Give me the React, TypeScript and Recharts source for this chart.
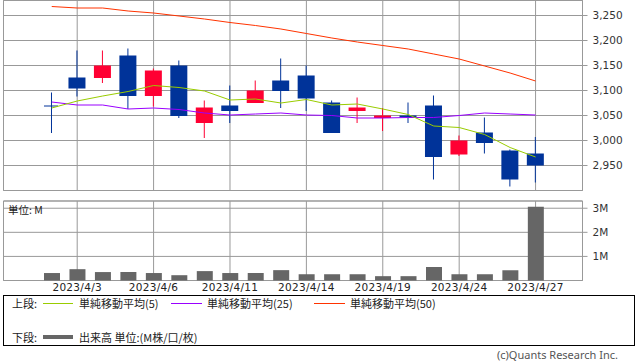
import { ComposedChart, Bar, Line, XAxis, YAxis, CartesianGrid, ReferenceArea } from "recharts";

const labels = [
  "2023/3/31", "2023/4/3", "2023/4/4", "2023/4/5", "2023/4/6", "2023/4/7", "2023/4/10",
  "2023/4/11", "2023/4/12", "2023/4/13", "2023/4/14", "2023/4/17", "2023/4/18", "2023/4/19",
  "2023/4/20", "2023/4/21", "2023/4/24", "2023/4/25", "2023/4/26", "2023/4/27",
];
const open = [3069, 3126, 3125, 3170, 3089, 3150, 3035, 3070, 3075, 3120, 3130, 3076, 3059, 3045, 3050, 3070, 2972, 3016, 2980, 2974];
const high = [3096, 3180, 3180, 3184, 3144, 3160, 3080, 3110, 3120, 3164, 3150, 3080, 3086, 3065, 3076, 3090, 3010, 3046, 2982, 3007];
const low = [3015, 3088, 3115, 3063, 3068, 3045, 3005, 3035, 3075, 3065, 3059, 3015, 3035, 3019, 3035, 2922, 2969, 2974, 2908, 2916];
const close = [3069, 3104, 3150, 3089, 3140, 3049, 3066, 3059, 3100, 3099, 3084, 3015, 3066, 3050, 3046, 2967, 3000, 2995, 2922, 2950];
const ma5 = [3065, 3079, 3089, 3098, 3110, 3106, 3099, 3081, 3083, 3075, 3082, 3071, 3073, 3063, 3052, 3029, 3026, 3012, 2986, 2967];
const ma25 = [3077, 3071, 3071, 3063, 3065, 3062, 3055, 3051, 3053, 3055, 3051, 3050, 3045, 3045, 3046, 3046, 3050, 3055, 3053, 3051];
const ma50 = [3268, 3265, 3265, 3259, 3255, 3249, 3243, 3236, 3230, 3223, 3214, 3205, 3197, 3190, 3183, 3173, 3163, 3149, 3135, 3119];
const volume = [0.31, 0.47, 0.35, 0.35, 0.31, 0.22, 0.39, 0.31, 0.31, 0.43, 0.26, 0.26, 0.26, 0.18, 0.18, 0.56, 0.26, 0.26, 0.43, 3.06];

const priceTicks = [2950, 3000, 3050, 3100, 3150, 3200, 3250];
const volTicks = [1, 2, 3];
const dateTicks = [1, 4, 7, 10, 13, 16, 19];

const data = labels.map((label, i) => ({
  i,
  label,
  open: open[i],
  high: high[i],
  low: low[i],
  close: close[i],
  range: [low[i], high[i]],
  ma5: ma5[i],
  ma25: ma25[i],
  ma50: ma50[i],
  vol: volume[i],
}));

const UP = "#ff0033";
const DOWN = "#003399";
const GRID = "#999999";
const X_DOMAIN: [number, number] = [-1.894, 20.843];
const FONT = "'DejaVu Sans', sans-serif";
const JP = "'Noto Sans CJK JP', sans-serif";

const Candle = (props: any) => {
  const { x, y, width, height, payload } = props;
  const top = Math.min(y, y + height);
  const h = Math.abs(height);
  const span = payload.high - payload.low;
  const k = span > 0 ? h / span : 0;
  const cx = x + width / 2;
  const bodyTop = top + (payload.high - Math.max(payload.open, payload.close)) * k;
  const bodyBot = top + (payload.high - Math.min(payload.open, payload.close)) * k;
  const color = payload.close > payload.open ? UP : DOWN;
  return (
    <g>
      <line x1={cx} x2={cx} y1={top} y2={top + h} stroke={color} strokeWidth={1} />
      {bodyBot - bodyTop < 1 ? (
        <line x1={x + 1} x2={x + width - 2} y1={bodyTop} y2={bodyTop} stroke={color} strokeWidth={1} />
      ) : (
        <rect x={x} y={bodyTop} width={width} height={bodyBot - bodyTop} fill={color} />
      )}
    </g>
  );
};

const legendText = { position: "absolute" as const, fontFamily: JP, fontSize: 11, color: "#222", lineHeight: "14px", whiteSpace: "nowrap" as const };

export default function App() {
  return (
    <div style={{ position: "absolute", left: 0, top: 0, width: 638, height: 362, background: "#fff" }}>
      <div style={{ position: "absolute", left: 0, top: 0 }}>
        <ComposedChart width={638} height={191} data={data} margin={{ top: 0.5, right: 0, bottom: 0.5, left: 3.5 }}>
          <CartesianGrid stroke={GRID} />
          <XAxis type="number" dataKey="i" domain={X_DOMAIN} ticks={dateTicks} hide />
          <YAxis
            orientation="right"
            width={55.5}
            domain={[2900, 3280]}
            ticks={priceTicks}
            tickFormatter={(v: number) => v.toLocaleString("en-US")}
            tickSize={5}
            tickMargin={5}
            axisLine={false}
            tickLine={{ stroke: GRID }}
            tick={{ fill: "#333", fontSize: 10.5, fontFamily: FONT, textAnchor: "start" }}
          />
          <ReferenceArea x1={X_DOMAIN[0]} x2={X_DOMAIN[1]} y1={2900} y2={3280} fill="none" stroke={GRID} />
          <Line dataKey="ma50" stroke="#ff3300" dot={false} strokeWidth={1} isAnimationActive={false} />
          <Line dataKey="ma25" stroke="#9900ff" dot={false} strokeWidth={1} isAnimationActive={false} />
          <Line dataKey="ma5" stroke="#99cc00" dot={false} strokeWidth={1} isAnimationActive={false} />
          <Bar dataKey="range" barSize={17} shape={<Candle />} isAnimationActive={false} />
        </ComposedChart>
      </div>

      <div style={{ position: "absolute", left: 0, top: 200 }}>
        <ComposedChart width={638} height={100} data={data} margin={{ top: 1, right: 0, bottom: 0, left: 3.5 }}>
          <CartesianGrid stroke={GRID} />
          <XAxis
            type="number"
            dataKey="i"
            domain={X_DOMAIN}
            ticks={dateTicks}
            height={19.5}
            tickFormatter={(v: number) => labels[v]}
            tickSize={0}
            tickMargin={3}
            axisLine={false}
            tickLine={false}
            tick={{ fill: "#222", fontSize: 10.5, fontFamily: FONT, letterSpacing: 0.3 }}
          />
          <YAxis
            orientation="right"
            width={55.5}
            domain={[0, 3.3]}
            ticks={volTicks}
            tickFormatter={(v: number) => `${v}M`}
            tickSize={5}
            tickMargin={5}
            axisLine={false}
            tickLine={{ stroke: GRID }}
            tick={{ fill: "#333", fontSize: 10.5, fontFamily: FONT, textAnchor: "start" }}
          />
          <ReferenceArea x1={X_DOMAIN[0]} x2={X_DOMAIN[1]} y1={0} y2={3.3} fill="none" stroke={GRID} />
          <Bar dataKey="vol" barSize={16} fill="#666666" isAnimationActive={false} />
        </ComposedChart>
      </div>

      <div style={{ ...legendText, left: 8, top: 203, fontSize: 10.5 }}>単位: M</div>

      <div style={{ position: "absolute", left: 3, top: 295, width: 632, height: 51, border: "1px solid #000", boxSizing: "border-box" }} />
      <div style={{ ...legendText, left: 12, top: 296 }}>上段:</div>
      <div style={{ position: "absolute", left: 43, top: 303, width: 30, height: 1, background: "#99cc00" }} />
      <div style={{ ...legendText, left: 79, top: 296 }}>単純移動平均(5)</div>
      <div style={{ position: "absolute", left: 171, top: 303, width: 31, height: 1, background: "#9900ff" }} />
      <div style={{ ...legendText, left: 207, top: 296 }}>単純移動平均(25)</div>
      <div style={{ position: "absolute", left: 314, top: 303, width: 31, height: 1, background: "#ff3300" }} />
      <div style={{ ...legendText, left: 350, top: 296 }}>単純移動平均(50)</div>

      <div style={{ ...legendText, left: 12, top: 330 }}>下段:</div>
      <div style={{ position: "absolute", left: 43, top: 335, width: 30, height: 4, background: "#666666" }} />
      <div style={{ ...legendText, left: 79, top: 330 }}>出来高 単位:(M株/口/枚)</div>

      <div style={{ ...legendText, fontFamily: "'Noto Sans', sans-serif", color: "#555", right: 20, top: 348 }}>(c)Quants Research Inc.</div>
    </div>
  );
}
